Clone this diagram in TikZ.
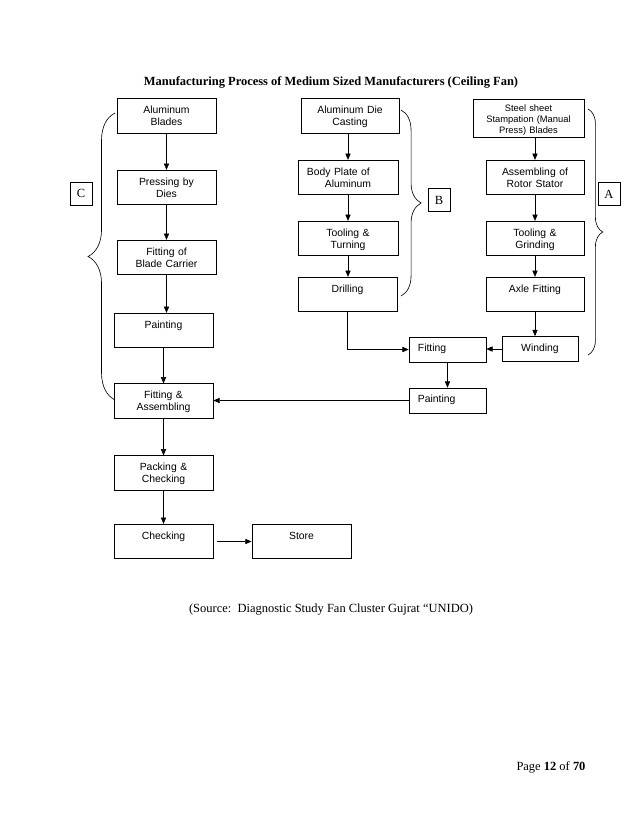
\documentclass[tikz,border=0pt]{standalone}
\usepackage{fontspec}
\setmainfont{Liberation Serif}
\newfontfamily\arial{Liberation Sans}
\usetikzlibrary{arrows.meta,decorations.pathreplacing}

\begin{document}
\begin{tikzpicture}[x=0.0338cm, y=-0.0338cm,
    stage/.style={draw, line width=0.75pt, font=\arial\fontsize{10}{11.5}\selectfont,
        align=center, inner xsep=0pt, inner ysep=0pt, text width=#1,
        text height=14.5pt, text depth=18.7pt},
    stage/.default=3.35cm,
    short/.style={stage=#1, text height=14pt, text depth=10pt},
    tag/.style={draw, line width=0.75pt, font=\fontsize{12}{14}\selectfont,
        minimum width=0.74cm, minimum height=0.78cm, inner sep=0pt},
    flow/.style={-{Triangle[length=6pt,width=5pt]}, line width=0.6pt},
    group/.style={decorate, line width=0.6pt, decoration={brace, amplitude=#1}}
]
    \fill[white] (0,0) rectangle (638,826);

    % Title
    \node[font=\bfseries\fontsize{12}{14}\selectfont] (title) at (331,82) {Manufacturing Process of Medium Sized Manufacturers (Ceiling Fan)};

    % Left column (blades)
    \node[stage] (blades) at (166.5,116) {Aluminum\\Blades};
    \node[stage] (pressing) at (166.5,187.5) {Pressing by\\Dies};
    \node[stage] (carrier) at (166.5,257.5) {Fitting of\\Blade Carrier};
    \node[stage] (paintL) at (163.5,330.5) {Painting};
    \node[stage] (fitass) at (163.5,401) {Fitting \&\\Assembling};
    \node[stage] (packing) at (163.5,473) {Packing \&\\Checking};
    \node[stage] (checking) at (163.5,541.5) {Checking};
    \node[stage] (store) at (301.5,541.5) {Store};

    % Middle column (body)
    \node[stage=3.31cm] (diecast) at (350,116) {Aluminum Die\\Casting};
    \node[stage=3.38cm, align=left] (bodyplate) at (348,177.5) {\hspace*{0.3cm}Body Plate of\\\hspace*{0.91cm}Aluminum};
    \node[stage=3.38cm] (turning) at (348,238.5) {Tooling \&\\Turning};
    \node[stage] (drilling) at (347.5,294.5) {Drilling};

    % Right column (motor)
    \node[stage=3.75cm, font=\arial\fontsize{9}{10.3}\selectfont, text height=12.2pt, text depth=24.4pt] (steel) at (528.5,118) {Steel sheet\\Stampation (Manual\\Press) Blades};
    \node[stage=3.31cm] (rotor) at (535,177.5) {Assembling of\\Rotor Stator};
    \node[stage=3.31cm] (grinding) at (535,238.5) {Tooling \&\\Grinding};
    \node[stage=3.31cm] (axle) at (535,294.5) {Axle Fitting};
    \node[short=2.57cm] (winding) at (540,349) {Winding};
    \node[short=2cm, align=left, inner xsep=0.3cm] (fitting) at (447.5,349.5) {Fitting};
    \node[short=2cm, align=left, inner xsep=0.3cm] (paintR) at (447.5,400.5) {Painting};

    % Group tags
    \node[tag] (tagC) at (81,193.5) {C};
    \node[tag] (tagB) at (439,200) {B};
    \node[tag] (tagA) at (609,194) {A};

    % Braces
    \draw[group=0.91cm] (115,400) -- (115,113);
    \draw[group=0.68cm] (401,110) -- (401,296);
    \draw[group=0.5cm] (588,109) -- (588,355);

    % Flow of the left column
    \draw[flow] (blades) -- (pressing);
    \draw[flow] (pressing) -- (carrier);
    \draw[flow] (carrier.south) -- (carrier.south |- paintL.north);
    \draw[flow] (paintL) -- (fitass);
    \draw[flow] (fitass) -- (packing);
    \draw[flow] (packing) -- (checking);
    \draw[flow] ([xshift=3pt]checking.east) -- (store.west);

    % Flow of the middle column
    \draw[flow] (bodyplate.north |- diecast.south) -- (bodyplate.north);
    \draw[flow] (bodyplate) -- (turning);
    \draw[flow] (turning.south) -- (turning.south |- drilling.north);
    \draw[flow] (drilling.south) |- (fitting.west);

    % Flow of the right column
    \draw[flow] (rotor.north |- steel.south) -- (rotor.north);
    \draw[flow] (rotor) -- (grinding);
    \draw[flow] (grinding) -- (axle);
    \draw[flow] (axle.south) -- (axle.south |- winding.north);
    \draw[flow] (winding.west) -- (winding.west -| fitting.east);
    \draw[flow] (fitting) -- (paintR);
    \draw[flow] (paintR.west) -- (paintR.west -| fitass.east);

    % Footer
    \node[font=\fontsize{12}{14}\selectfont] (source) at (331,610) {(Source:\ \ Diagnostic Study Fan Cluster Gujrat “UNIDO)};
    \node[font=\fontsize{12}{14}\selectfont] (page) at (551,767) {Page \textbf{12} of \textbf{70}};
\end{tikzpicture}
\end{document}
